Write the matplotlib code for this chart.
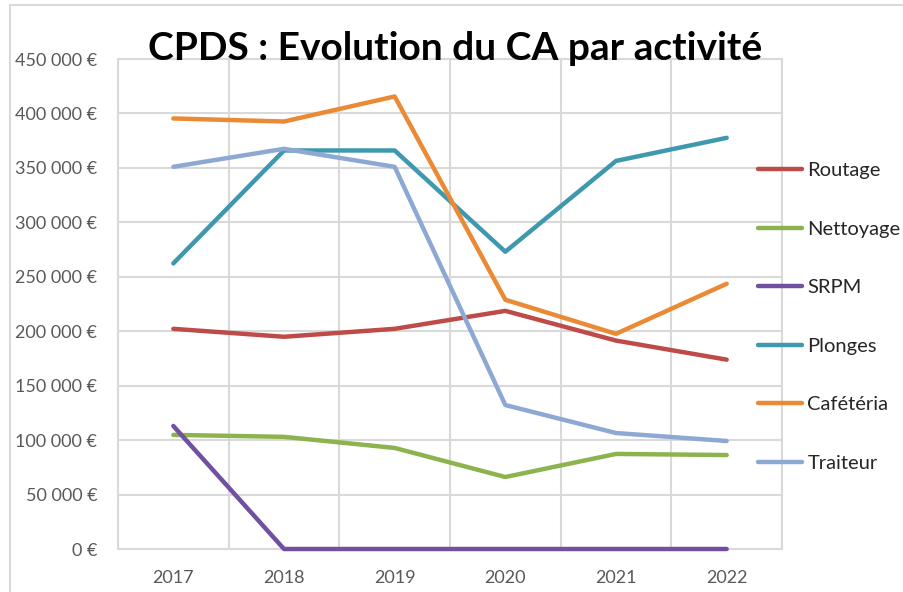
import matplotlib.pyplot as plt
from matplotlib.patches import Rectangle
from matplotlib.ticker import FuncFormatter

plt.rcParams['font.family'] = ['Lato', 'DejaVu Sans']

# données
annees = ['2017', '2018', '2019', '2020', '2021', '2022']
routage = [202200, 194900, 202200, 218700, 191400, 173900]
nettoyage = [104800, 103000, 92800, 66100, 87300, 86300]
srpm = [113000, 0, 0, 0, 0, 0]
plonges = [262300, 366000, 366000, 273000, 356400, 377600]
cafeteria = [395400, 392600, 415600, 228900, 197600, 243600]
traiteur = [351000, 367500, 351000, 132200, 106500, 99200]

series = [
    ('Routage', routage, '#BE4B48'),
    ('Nettoyage', nettoyage, '#8DB34F'),
    ('SRPM', srpm, '#7150A0'),
    ('Plonges', plonges, '#3E98AE'),
    ('Cafétéria', cafeteria, '#EA8A34'),
    ('Traiteur', traiteur, '#8EA8D4'),
]

fig = plt.figure(figsize=(9.04, 5.92), dpi=100)
ax = fig.add_axes([118 / 904, 1 - 549 / 592, 664 / 904, 490 / 592])

x = range(len(annees))
for nom, vals, coul in series:
    ax.plot(x, vals, color=coul, lw=3.2, label=nom, solid_capstyle='round',
            solid_joinstyle='round', clip_on=False, zorder=5)

ax.set_xlim(-0.5, len(annees) - 0.5)
ax.set_ylim(0, 450000)
ax.set_yticks(range(0, 450001, 50000))
ax.yaxis.set_major_formatter(FuncFormatter(
    lambda v, p: f"{int(v):,} €".replace(',', ' ')))
ax.set_xticks(list(x))
ax.set_xticklabels(annees)
ax.set_xticks([i - 0.5 for i in range(len(annees) + 1)], minor=True)

ax.tick_params(axis='both', which='both', length=0, labelsize=13,
               colors='#595959')
ax.tick_params(axis='y', pad=15)
ax.tick_params(axis='x', pad=15)
ax.grid(True, which='major', axis='y', color='#D9D9D9', lw=1.5)
ax.grid(True, which='minor', axis='x', color='#D9D9D9', lw=1.5)
ax.set_axisbelow(True)
for s in ax.spines.values():
    s.set_color('#D9D9D9')
    s.set_linewidth(1.5)
    s.set_zorder(1)

fig.text(455 / 904, 1 - 48 / 592, 'CPDS : Evolution du CA par activité',
         ha='center', va='center', fontsize=28, fontweight='bold')

leg = ax.legend(loc='upper left', bbox_to_anchor=(750 / 904, 1 - 154 / 592),
                bbox_transform=fig.transFigure, frameon=False, fontsize=14.5,
                handlelength=2.2, handletextpad=0.25, labelspacing=2.06,
                borderaxespad=0)
for t in leg.get_texts():
    t.set_color('#262626')

fig.patches.append(Rectangle((10 / 904, -0.05), 1.0, 1 - 5 / 592 + 0.05,
                             transform=fig.transFigure, fill=False,
                             edgecolor='#D9D9D9', lw=1.5))

fig.savefig('out.png', dpi=100)
